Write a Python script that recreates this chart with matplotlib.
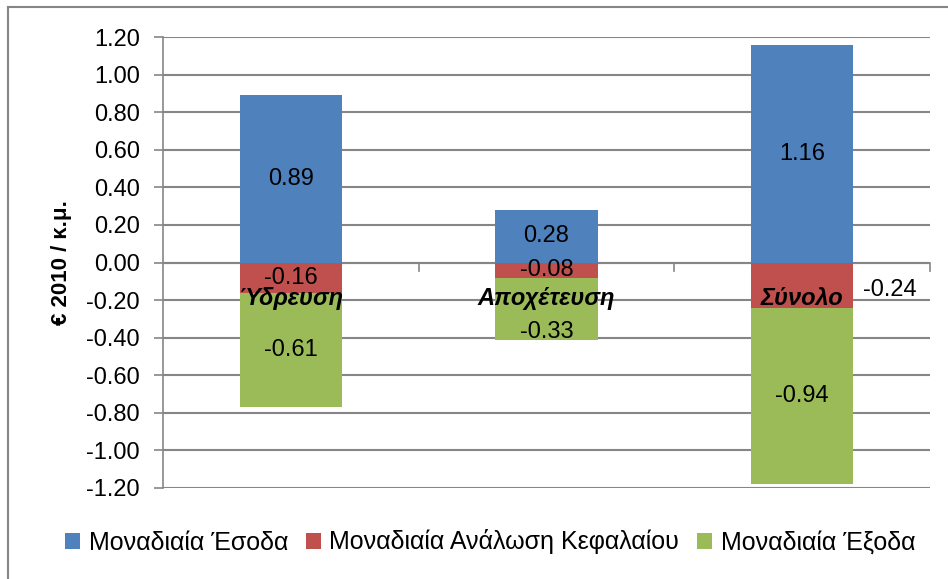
import matplotlib.pyplot as plt
from matplotlib.lines import Line2D

plt.rcParams['font.family'] = ['Liberation Sans', 'DejaVu Sans']

categories = ['Ύδρευση', 'Αποχέτευση', 'Σύνολο']
esoda = [0.89, 0.28, 1.16]
analosi = [-0.16, -0.08, -0.24]
exoda = [-0.61, -0.33, -0.94]
series_names = ['Μοναδιαία Έσοδα', 'Μοναδιαία Ανάλωση Κεφαλαίου', 'Μοναδιαία Έξοδα']
colors = ['#4F81BD', '#C0504D', '#9BBB59']
yticks = [-1.2, -1.0, -0.8, -0.6, -0.4, -0.2, 0.0, 0.2, 0.4, 0.6, 0.8, 1.0, 1.2]

# data labels that were dragged away from the bar centre in the original
moved_labels = {(1, 2): (2.343, -0.145), (2, 1): (1.0, -0.37)}

fig = plt.figure(figsize=(9.48, 5.79), dpi=100)
ax = fig.add_axes([163 / 948, 1 - 488 / 579, (930 - 163) / 948, (488 - 37) / 579])

x = list(range(len(categories)))
w = 0.4
zero = [0] * len(x)
stack = [(esoda, zero), (analosi, zero), (exoda, analosi)]
for k, (vals, bot) in enumerate(stack):
    ax.bar(x, vals, w, bottom=bot, color=colors[k], label=series_names[k], zorder=3)
    for i in x:
        pos = moved_labels.get((k, i), (i, bot[i] + vals[i] / 2))
        ax.text(pos[0], pos[1], '%.2f' % vals[i], ha='center', va='center',
                fontsize=17, zorder=5)

for i, c in enumerate(categories):
    ax.text(i, -0.19, c, ha='center', va='center', fontsize=17,
            fontweight='bold', fontstyle='italic', zorder=6)

ax.set_xlim(-0.5, 2.5)
ax.set_ylim(-1.2, 1.2)
ax.set_yticks(yticks)
ax.set_yticklabels(['%.2f' % v for v in yticks], fontsize=17)
ax.yaxis.grid(True, color='#868686', linewidth=1.5, zorder=0)
ax.tick_params(axis='y', length=6.5, width=1.2, color='#868686', pad=10)
ax.set_xticks([])
for s in ['top', 'right', 'bottom']:
    ax.spines[s].set_visible(False)
ax.spines['left'].set_color('#868686')
ax.spines['left'].set_linewidth(1.2)

# category axis at zero with outward ticks between categories
ax.axhline(0, color='#868686', linewidth=1.5, zorder=2)
for t in [0.5, 1.5, 2.5]:
    ax.plot([t, t], [0, -0.045], color='#868686', linewidth=1.2, zorder=2, clip_on=False)

ax.set_ylabel('€ 2010 / κ.μ.', fontsize=16, fontweight='bold')
ax.yaxis.set_label_coords(-0.118, 0.5)

fig.legend(loc='center', bbox_to_anchor=(0.517, 1 - 542 / 579), ncol=3, frameon=False,
           fontsize=18, handlelength=0.6, handleheight=0.6, handletextpad=0.35,
           columnspacing=0.7)

# chart frame (only top and left edges visible)
fig.add_artist(Line2D([8 / 948, 8 / 948], [0, 1 - 7 / 579], color='#868686', linewidth=1.5))
fig.add_artist(Line2D([8 / 948, 1], [1 - 7 / 579, 1 - 7 / 579], color='#868686', linewidth=1.5))

plt.savefig('out.png', dpi=100)
